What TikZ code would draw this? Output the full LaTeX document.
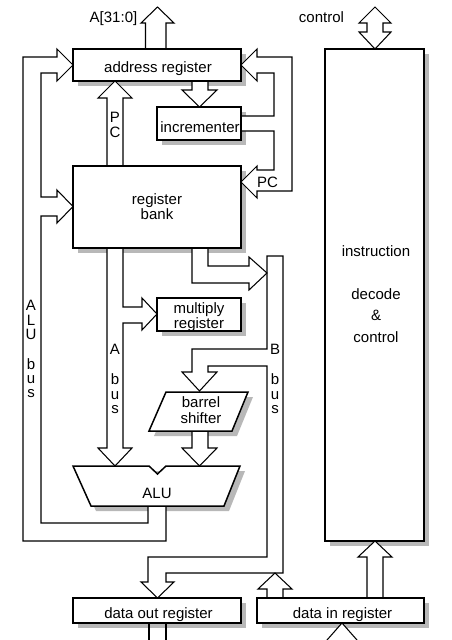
\documentclass[tikz,border=0pt]{standalone}
\usepackage{fontspec}
\setmainfont{Liberation Sans}
\begin{document}
\begin{tikzpicture}[x=1pt,y=-1pt,
  box/.style={draw=black, line width=1.5pt, fill=white, inner sep=0pt},
  shade/.style={fill=black!28, draw=none},
  bus/.style={draw=black, line width=1.05pt, fill=white, line join=miter},
  lbl/.style={font=\fontsize{15}{18}\selectfont, anchor=base, inner sep=0pt},
]
\useasboundingbox (0,0) rectangle (451,640);
\clip (0,0) rectangle (451,640);

% drop shadows
\fill[shade] (78,54) rectangle (246,86);
\fill[shade] (162,112) rectangle (246,145);
\fill[shade] (78,171) rectangle (246,253);
\fill[shade] (162,303) rectangle (246,336);
\fill[shade] (171,397) -- (253,397) -- (237,436) -- (154,436) -- cycle;
\fill[shade] (78,471) -- (245,471) -- (229,511) -- (96,511) -- cycle;
\fill[shade] (330,54) rectangle (429,546);
\fill[shade] (78,603) rectangle (246,628);
\fill[shade] (262,603) rectangle (429,628);

% ALU result bus back to the register bank and the address register
\filldraw[bus] (166,506) -- (166,541) -- (23,541) -- (23,57) -- (57,57) -- (57,49)
  -- (73,65) -- (57,81) -- (57,73) -- (41,73) -- (41,197) -- (57,197) -- (57,190)
  -- (73,206.5) -- (57,223) -- (57,216) -- (41,216) -- (41,523) -- (148,523) -- (148,506);

% incrementer output to the address register and to the register bank (PC)
\filldraw[bus] (241,116) -- (274,116) -- (274,73) -- (257,73) -- (257,81) -- (241,65)
  -- (257,49) -- (257,57) -- (292,57) -- (292,191) -- (257,191) -- (257,198)
  -- (241,182) -- (257,166) -- (257,170) -- (274,170) -- (274,131) -- (241,131);

% address out
\filldraw[bus] (145.5,49) -- (145.5,23) -- (141,23) -- (157.5,7) -- (174,23) -- (166,23) -- (166,49);

% control, both ways
\filldraw[bus] (375,7) -- (391,23) -- (383,23) -- (383,32) -- (391,32) -- (375,49)
  -- (359,32) -- (367,32) -- (367,23) -- (359,23) -- cycle;

% address register to incrementer
\filldraw[bus] (192,81) -- (192,90) -- (182,90) -- (199.5,107) -- (217,90) -- (208,90) -- (208,81);

% PC from register bank to address register
\filldraw[bus] (107,166) -- (107,98) -- (98,98) -- (115,81) -- (132,98) -- (123,98) -- (123,166);

% A bus with branch into the multiply register
\filldraw[bus] (107,248) -- (107,448) -- (98,448) -- (115,466) -- (132,448) -- (123,448)
  -- (123,323) -- (142,323) -- (142,330) -- (157,314) -- (142,298) -- (142,307)
  -- (123,307) -- (123,248);

% B bus with branches to the barrel shifter and the data out register
\filldraw[bus] (267,557) -- (267,366) -- (208,366) -- (208,372) -- (217,372) -- (199.5,391)
  -- (182,372) -- (192,372) -- (192,349) -- (267,349) -- (267,256) -- (283,256)
  -- (283,573) -- (166,573) -- (166,582) -- (174,582) -- (157.5,598) -- (141,582)
  -- (148,582) -- (148,557) -- cycle;

% register bank onto the B bus
\filldraw[bus] (192,248) -- (192,283) -- (249,283) -- (249,290) -- (267,273) -- (249,257)
  -- (249,266) -- (208,266) -- (208,248);

% barrel shifter to ALU
\filldraw[bus] (192,431) -- (192,448) -- (182,448) -- (199.5,466) -- (217,448) -- (208,448) -- (208,431);

% data in register onto the B bus
\filldraw[bus] (267,598) -- (267,589) -- (258,589) -- (275,573) -- (292,589) -- (283,589) -- (283,598);

% data in register to instruction decode
\filldraw[bus] (367,598) -- (367,557) -- (358,557) -- (375,541) -- (392,557) -- (383,557) -- (383,598);

% data out / data in at the memory side
\draw[bus] (149,623) -- (149,645);
\draw[bus] (166,623) -- (166,645);
\draw[bus] (323.5,644) -- (342,623) -- (360.5,644);

% blocks
\node[box, minimum width=168pt, minimum height=32pt] (addr) at (157,65) {};
\node[box, minimum width=84pt, minimum height=33pt] (incr) at (199,123.5) {};
\node[box, minimum width=168pt, minimum height=82pt] (bank) at (157,207) {};
\node[box, minimum width=84pt, minimum height=33pt] (mult) at (199,314.5) {};
\node[box, minimum width=99pt, minimum height=492pt] (decode) at (374.5,295) {};
\node[box, minimum width=168pt, minimum height=25pt] (dout) at (157,610.5) {};
\node[box, minimum width=167pt, minimum height=25pt] (din) at (340.5,610.5) {};
\filldraw[box] (166,392) -- (248,392) -- (232,431) -- (149,431) -- cycle;
\filldraw[box] (73,466) -- (149,466) -- (157.5,474) -- (166,466) -- (240,466) -- (224,506) -- (91,506) -- cycle;

% texts
\node[lbl] (tA) at (113.5,22) {A[31:0]};
\node[lbl] (tctl) at (321.5,22) {control};
\node[lbl] (taddr) at (158,72) {address register};
\node[lbl] (tP) at (115,122) {P};
\node[lbl] (tC) at (115,137) {C};
\node[lbl] (tinc) at (200,132) {incrementer};
\node[lbl] (tpc) at (267.5,187) {PC};
\node[lbl] (treg1) at (157,204) {register};
\node[lbl] (treg2) at (157,219) {bank};
\node[lbl] (tmul1) at (199,313.5) {multiply};
\node[lbl] (tmul2) at (199,328) {register};
\node[lbl] (taluA) at (31,310) {A};
\node[lbl] (taluL) at (31,325) {L};
\node[lbl] (taluU) at (31,339) {U};
\node[lbl] (talub) at (31,369) {b};
\node[lbl] (taluu) at (31,383) {u};
\node[lbl] (talus) at (31,397) {s};
\node[lbl] (tabA) at (115,354) {A};
\node[lbl] (tabb) at (115,384) {b};
\node[lbl] (tabu) at (115,399) {u};
\node[lbl] (tabs) at (115,413) {s};
\node[lbl] (tbbB) at (275,354) {B};
\node[lbl] (tbbb) at (275,384) {b};
\node[lbl] (tbbu) at (275,399) {u};
\node[lbl] (tbbs) at (275,413) {s};
\node[lbl] (tbar1) at (201,407) {barrel};
\node[lbl] (tbar2) at (201,423) {shifter};
\node[lbl] (talu) at (157,498) {ALU};
\node[lbl] (tdout) at (158.5,618) {data out register};
\node[lbl] (tdin) at (342.5,618) {data in register};
\node[lbl] (tdec1) at (376,256) {instruction};
\node[lbl] (tdec2) at (376,299) {decode};
\node[lbl] (tdec3) at (376,320) {\&};
\node[lbl] (tdec4) at (376,342) {control};
\end{tikzpicture}
\end{document}
